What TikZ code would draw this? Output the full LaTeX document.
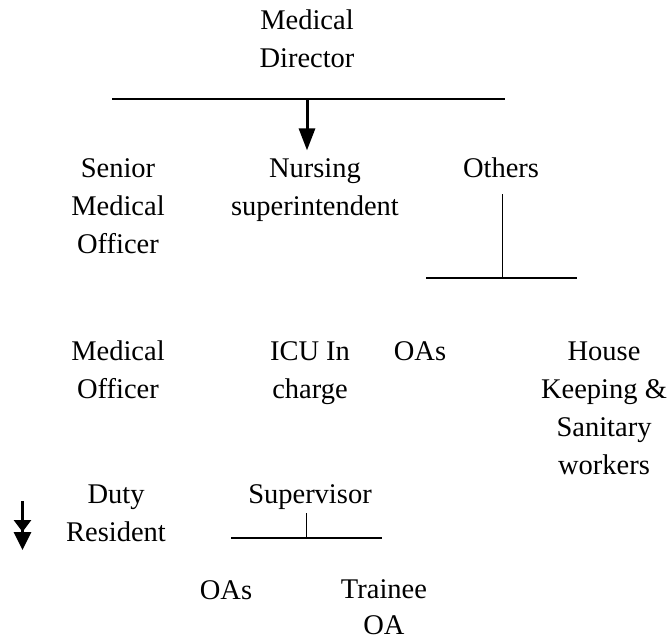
\documentclass[tikz,border=0pt]{standalone}
\usepackage{fontspec}
\setmainfont{Liberation Serif}
\usetikzlibrary{arrows.meta}
\newcommand\orgfont{\fontsize{28.5}{38}\selectfont}
\tikzset{
  post/.style={align=center, inner sep=0pt, anchor=north, font=\orgfont},
  bar/.style={line width=1.8pt},
  stem/.style={line width=0.8pt},
  down/.style={line width=3pt, -{Triangle[length=22pt,width=16pt]}},
}
\begin{document}
\begin{tikzpicture}[x=1pt,y=-1pt]
    \useasboundingbox (0,0) rectangle (672,642);

    \node[post] (director) at (307,2.4) {\strut Medical\\Director};

    \node[post] (senior) at (118,150.4) {\strut Senior\\Medical\\Officer};
    \node[post] (nurse)  at (315,150.4) {\strut Nursing\\superintendent};
    \node[post] (others) at (501,150.4) {\strut Others};

    \node[post] (medoff) at (118,333.4) {\strut Medical\\Officer};
    \node[post] (icu)    at (310,333.4) {\strut ICU In\\charge};
    \node[post] (oas)    at (420,333.4) {\strut OAs};
    \node[post] (house)  at (604,333.4) {\strut House\\Keeping \&\\Sanitary\\workers};

    \node[post] (duty)  at (116,476.4) {\strut Duty\\Resident};
    \node[post] (super) at (310,476.4) {\strut Supervisor};

    \node[post] (oasb)    at (226,573) {\strut OAs};
    \node[post, font=\fontsize{28.5}{36}\selectfont] (trainee) at (384,573) {\strut Trainee\\OA};

    % top bar and arrow
    \coordinate (topL) at (112,99);
    \coordinate (topR) at (505,99);
    \coordinate (topM) at (307,99);
    \draw[bar] (topL) -- (topR);
    \draw[down] (topM) -- (topM |- nurse.north);

    % others
    \coordinate (othtop) at (502,194);
    \coordinate (othM) at (502,278);
    \coordinate (othL) at (426,278);
    \coordinate (othR) at (577,278);
    \draw[stem] (othtop) -- (othM);
    \draw[bar] (othL) -- (othR);

    % supervisor
    \coordinate (suptop) at (306,513);
    \coordinate (supM) at (306,538);
    \coordinate (supL) at (231,538);
    \coordinate (supR) at (382,538);
    \draw[stem] (suptop) -- (supM);
    \draw[bar] (supL) -- (supR);

    % arrow by duty resident
    \coordinate (dtop) at (22.5,501);
    \coordinate (dbot) at (22.5,550);
    \draw[line width=3pt, -{Triangle[length=12pt,width=17pt]Triangle[length=18pt,width=17pt]}] (dtop) -- (dbot);

\end{tikzpicture}
\end{document}
